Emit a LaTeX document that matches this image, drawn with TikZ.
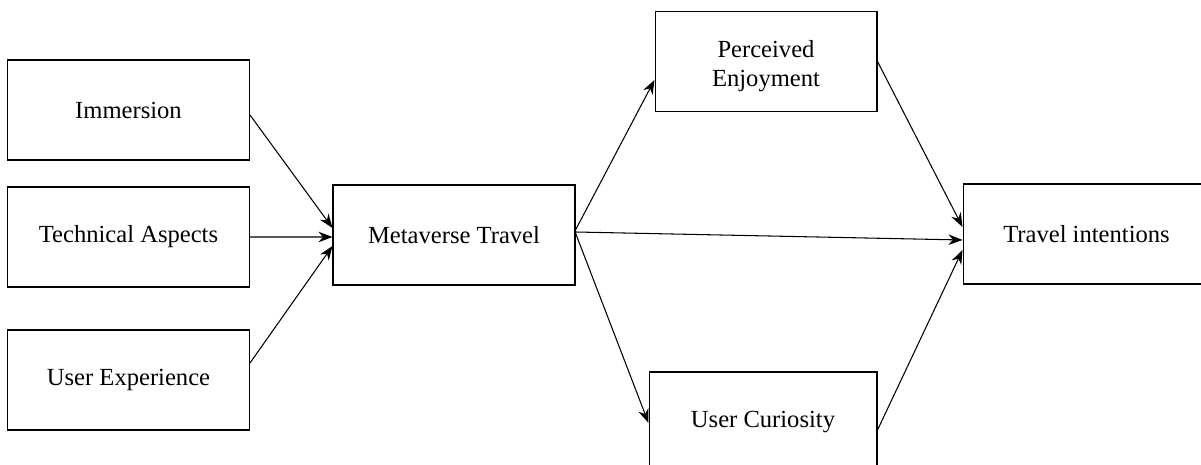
\documentclass[tikz,border=0pt]{standalone}
\usepackage{fontspec}
\setmainfont{Liberation Serif}
\usetikzlibrary{arrows.meta}

\begin{document}
\begin{tikzpicture}[x=0.02cm, y=-0.02cm]
    \tikzstyle{block}=[rectangle, draw, line width=0.6pt, minimum width=4.84cm, minimum height=2cm, align=center, inner sep=0pt, font=\fontsize{14}{16.5}\selectfont]
    \tikzstyle{link}=[->, line width=0.6pt, >={Stealth[length=8pt, width=6pt]}]

    \useasboundingbox (0, 0) rectangle (1201, 465);
    \clip (0, 0) rectangle (1201, 465);

    % inputs
    \foreach \name/\y/\txt in {imm/110/Immersion, tech/237/Technical Aspects, ux/380/User Experience}
        \node[block] (\name) at (128.5, \y) {\txt};

    \node[block] (meta) at (454, 235) {Metaverse Travel};

    % mediators
    \node[block, minimum width=4.44cm] (enj) at (766, 61.5) {\rule{0pt}{15pt}Perceived\\Enjoyment};
    \node[block, minimum width=4.56cm] (cur) at (763, 422) {User Curiosity};

    \node[block, minimum width=4.94cm] (trav) at (1086.5, 234) {Travel intentions};

    \draw[link] ([yshift=-0.1cm]imm.east) -- ([yshift=0.14cm]meta.west);
    \draw[link] (tech.east) -- ([yshift=-0.04cm]meta.west);
    \draw[link] ([yshift=0.34cm]ux.east) -- ([yshift=-0.22cm]meta.west);

    \draw[link] ([yshift=0.1cm]meta.east) -- ([yshift=-0.37cm]enj.west);
    \draw[link] ([yshift=0.06cm]meta.east) -- ([yshift=-0.12cm]trav.west);
    \draw[link] ([yshift=0.04cm]meta.east) -- ([yshift=-0.02cm]cur.west);

    \draw[link] (enj.east) -- ([yshift=0.14cm]trav.west);
    \draw[link] ([yshift=-0.16cm]cur.east) -- ([yshift=-0.32cm]trav.west);
\end{tikzpicture}
\end{document}
